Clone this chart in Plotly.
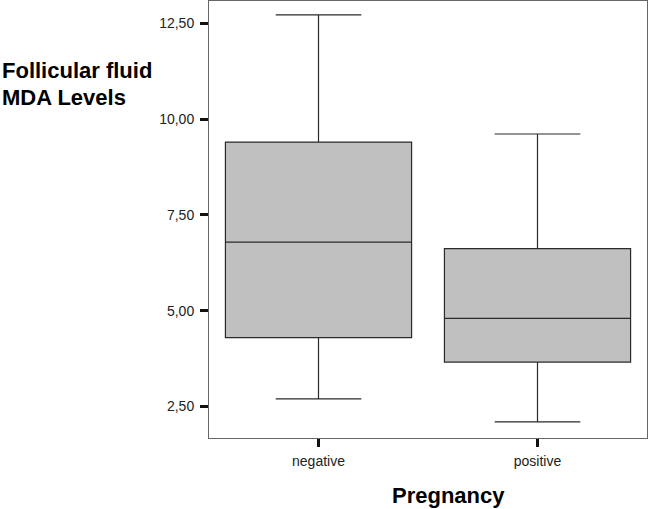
import plotly.graph_objects as go

categories = ["negative", "positive"]
q1 = [4.30, 3.66]
median = [6.79, 4.80]
q3 = [9.40, 6.62]
lower_fence = [2.70, 2.10]
upper_fence = [12.72, 9.61]
y_tick_vals = [2.5, 5.0, 7.5, 10.0, 12.5]
y_tick_text = ["2,50", "5,00", "7,50", "10,00", "12,50"]
y_title_lines = ["Follicular fluid", "MDA Levels"]
x_title = "Pregnancy"

FONT = "Liberation Sans, Arial, sans-serif"

fig = go.Figure()
fig.add_trace(go.Box(
    x=categories,
    q1=q1, median=median, q3=q3,
    lowerfence=lower_fence, upperfence=upper_fence,
    fillcolor="#c0c0c0",
    line=dict(color="#2a2a2a", width=1.2),
    whiskerwidth=0.46,
    width=0.85,
    boxpoints=False,
    hoverinfo="skip",
    showlegend=False,
))

PW, PH = 438, 437
fig.update_layout(
    width=649, height=509,
    margin=dict(l=209, r=2, t=1, b=71),
    paper_bgcolor="white", plot_bgcolor="white",
    font=dict(family=FONT, size=14, color="#222222"),
    xaxis=dict(
        type="category", range=[-0.5, 1.5],
        showline=True, linecolor="#666666", linewidth=1, mirror=True,
        ticks="outside", ticklen=8, tickwidth=3, tickcolor="#111111",
        showgrid=False, zeroline=False,
        tickfont=dict(family=FONT, size=14, color="#222222"),
        ticklabelstandoff=2,
    ),
    yaxis=dict(
        range=[1.68, 13.08],
        tickvals=y_tick_vals, ticktext=y_tick_text,
        showline=True, linecolor="#666666", linewidth=1, mirror=True,
        ticks="outside", ticklen=8, tickwidth=3, tickcolor="#111111",
        showgrid=False, zeroline=False,
        tickfont=dict(family=FONT, size=14, color="#222222"),
        ticklabelstandoff=3,
    ),
    annotations=[
        dict(text="<b>%s</b>" % y_title_lines[0], xref="paper", yref="paper",
             x=-209/PW, y=1 - 55/PH, xanchor="left", yanchor="top", align="left",
             showarrow=False, font=dict(family=FONT, size=22, color="#000000")),
        dict(text="<b>%s</b>" % y_title_lines[1], xref="paper", yref="paper",
             x=-209/PW, y=1 - 82/PH, xanchor="left", yanchor="top", align="left",
             showarrow=False, font=dict(family=FONT, size=22, color="#000000")),
        dict(text="<b>%s</b>" % x_title, xref="paper", yref="paper",
             x=(448-209)/PW, y=-(510-438)/PH, xanchor="center", yanchor="bottom",
             showarrow=False, font=dict(family=FONT, size=22, color="#000000")),
    ],
)

fig.write_html("out.html", config={"displayModeBar": False},
               post_script="document.body.style.margin='0';document.body.style.overflow='hidden';")
